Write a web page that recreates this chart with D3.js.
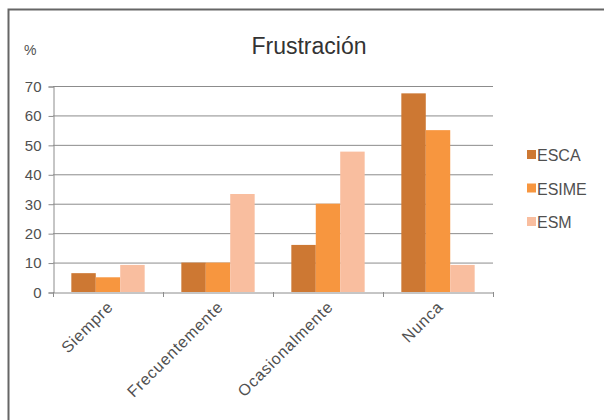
<!DOCTYPE html>
<html>
<head>
<meta charset="utf-8">
<script src="https://cdn.jsdelivr.net/npm/d3@7"></script>
<style>
  body { margin: 0; background: #fff; }
  text { font-family: "Liberation Sans", Arial, sans-serif; }
</style>
</head>
<body>
<script>
'use strict';

// chart data
let categories = ["Siempre", "Frecuentemente", "Ocasionalmente", "Nunca"];
let seriesNames = ["ESCA", "ESIME", "ESM"];
let esca = [6.4, 10, 16, 67.5];
let esime = [5, 10, 30, 55];
let esm = [9.2, 33.3, 47.7, 9.2];
let yTicks = [0, 10, 20, 30, 40, 50, 60, 70];
let colors = ["#CD7833", "#F7963F", "#F9BE9F"];

let seriesValues = [esca, esime, esm];

let svg = d3.select('body')
  .append('svg')
  .attr('width', 604)
  .attr('height', 420);

// frame of the chart (cut off at right and bottom)
svg.append('rect')
  .attr('x', 8.5)
  .attr('y', 9.5)
  .attr('width', 620)
  .attr('height', 430)
  .attr('fill', '#fff')
  .attr('stroke', '#666')
  .attr('stroke-width', 2);

// scales
let xScale = d3.scaleBand()
  .domain(categories)
  .range([53, 493])
  .paddingInner(0)
  .paddingOuter(0);

let barW = xScale.bandwidth() / 4.5; // gap width 150%
let xInner = d3.scaleBand()
  .domain(seriesNames)
  .range([barW * 0.75, barW * 3.75]);

let yScale = d3.scaleLinear()
  .domain([0, 70])
  .range([292, 86]);

// gridlines
svg.append('g')
  .selectAll('line')
  .data(yTicks.slice(1))
  .enter()
  .append('line')
    .attr('x1', 53)
    .attr('x2', 493)
    .attr('y1', (d) => yScale(d) + 0.5)
    .attr('y2', (d) => yScale(d) + 0.5)
    .attr('stroke', '#8c8c8c')
    .attr('stroke-width', 1);

// bars
seriesNames.forEach((name, i) => {
  svg.append('g')
    .selectAll('rect')
    .data(seriesValues[i])
    .enter()
    .append('rect')
      .attr('x', (d, j) => xScale(categories[j]) + xInner(name))
      .attr('y', (d) => yScale(d))
      .attr('width', xInner.bandwidth())
      .attr('height', (d) => yScale(0) - yScale(d))
      .attr('fill', colors[i]);
});

// y axis
let yAxis = d3.axisLeft(yScale)
  .tickValues(yTicks)
  .tickSize(5)
  .tickPadding(7);
let gy = svg.append('g')
  .attr('transform', 'translate(53.5, 0.5)')
  .call(yAxis);
gy.select('.domain').attr('stroke', '#8c8c8c');
gy.selectAll('.tick line').attr('stroke', '#8c8c8c');
gy.selectAll('.tick text')
  .attr('fill', '#505050')
  .style('font-size', '15px');

// x axis
let xAxis = d3.axisBottom(xScale).tickSize(0).tickFormat('');
let gx = svg.append('g')
  .attr('transform', 'translate(0, 292.5)')
  .call(xAxis);
gx.select('.domain').attr('stroke', '#8c8c8c');

// x tick marks at category boundaries
svg.append('g')
  .selectAll('line')
  .data(categories.concat(['end']))
  .enter()
  .append('line')
    .attr('x1', (d, i) => (i < categories.length ? xScale(d) : xScale.range()[1]) + 0.5)
    .attr('x2', (d, i) => (i < categories.length ? xScale(d) : xScale.range()[1]) + 0.5)
    .attr('y1', 292)
    .attr('y2', 297)
    .attr('stroke', '#8c8c8c');

// rotated category labels
svg.append('g')
  .selectAll('text')
  .data(categories)
  .enter()
  .append('text')
    .attr('transform', (d) => 'translate(' + (xScale(d) + xScale.bandwidth() / 2 + 6) + ', 308)rotate(-45)')
    .attr('text-anchor', 'end')
    .attr('fill', '#505050')
    .style('font-size', '16px')
    .style('letter-spacing', '0.8px')
    .text((d) => d);

// title and unit
svg.append('text')
  .attr('x', 309)
  .attr('y', 54)
  .attr('text-anchor', 'middle')
  .attr('fill', '#333')
  .style('font-size', '23px')
  .text('Frustración');

svg.append('text')
  .attr('x', 24)
  .attr('y', 55)
  .attr('fill', '#505050')
  .style('font-size', '14px')
  .text('%');

// legend
let legend = svg.append('g')
  .selectAll('g')
  .data(seriesNames)
  .enter()
  .append('g')
    .attr('transform', (d, i) => 'translate(527, ' + (155 + i * 33.5) + ')');

legend.append('rect')
  .attr('x', 0)
  .attr('y', -5)
  .attr('width', 9)
  .attr('height', 9)
  .attr('fill', (d, i) => colors[i]);

legend.append('text')
  .attr('x', 10)
  .attr('y', 6)
  .attr('fill', '#505050')
  .style('font-size', '16px')
  .text((d) => d);
</script>
</body>
</html>
